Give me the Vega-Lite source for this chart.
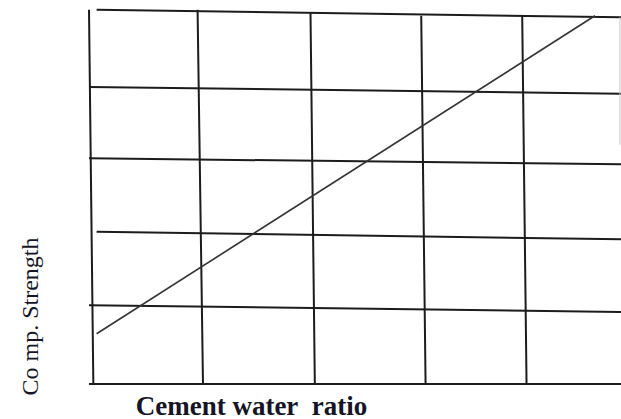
{
  "$schema": "https://vega.github.io/schema/vega-lite/v6.json",
  "width": 532,
  "height": 384,
  "autosize": "none",
  "padding": {"left": 89, "top": 0, "right": 0, "bottom": 35},
  "background": "white",
  "config": {"view": {"stroke": null}},
  "datasets": {
    "grid": [
      {"x": 0.07, "y": 4.99, "x2": 4.9, "y2": 4.89},
      {"x": 0.0, "y": 3.96, "x2": 4.9, "y2": 3.87},
      {"x": 0.0, "y": 3.01, "x2": 4.9, "y2": 2.93},
      {"x": 0.07, "y": 2.03, "x2": 4.9, "y2": 1.93},
      {"x": 0.0, "y": 1.05, "x2": 4.9, "y2": 0.96},
      {"x": 0.0, "y": 0.0, "x2": 4.9, "y2": 0.0},
      {"x": 0.0, "y": 4.99, "x2": 0.04, "y2": 0.0},
      {"x": 1.0, "y": 4.99, "x2": 1.05, "y2": 0.0},
      {"x": 2.04, "y": 4.96, "x2": 2.08, "y2": 0.0},
      {"x": 3.06, "y": 4.91, "x2": 3.1, "y2": 0.0},
      {"x": 3.99, "y": 4.91, "x2": 4.03, "y2": 0.0}
    ],
    "faint": [
      {"x": 4.89, "y": 4.89, "x2": 4.89, "y2": 3.19}
    ],
    "trend": [
      {"x": 0.07, "y": 0.67, "x2": 4.66, "y2": 4.91}
    ]
  },
  "layer": [
    {
      "data": {"name": "grid"},
      "mark": {"type": "rule", "color": "#1c1c1c", "strokeWidth": 2},
      "encoding": {
        "x": {
          "field": "x", "type": "quantitative",
          "scale": {"domain": [0, 4.9], "nice": false, "zero": false},
          "axis": {
            "title": "Cement water\u00a0 ratio",
            "domain": false, "ticks": false, "labels": false, "grid": false,
            "titleFont": "Liberation Serif", "titleFontSize": 27, "titleFontWeight": "bold",
            "titleColor": "#151525",
            "titleX": 162, "titleY": 30, "titleAlign": "center", "titleBaseline": "alphabetic", "titleAnchor": null
          }
        },
        "y": {
          "field": "y", "type": "quantitative",
          "scale": {"domain": [0, 5.12], "nice": false, "zero": false},
          "axis": {
            "title": "Co mp. Strength",
            "domain": false, "ticks": false, "labels": false, "grid": false,
            "titleFont": "Liberation Serif", "titleFontSize": 24, "titleFontWeight": "normal",
            "titleColor": "#151525",
            "titleAngle": -90,
            "titleX": -52, "titleY": 316, "titleAlign": "center", "titleBaseline": "alphabetic", "titleAnchor": null
          }
        },
        "x2": {"field": "x2"},
        "y2": {"field": "y2"}
      }
    },
    {
      "data": {"name": "faint"},
      "mark": {"type": "rule", "color": "#c8c8c8", "strokeWidth": 1},
      "encoding": {
        "x": {"field": "x", "type": "quantitative"},
        "y": {"field": "y", "type": "quantitative"},
        "x2": {"field": "x2"},
        "y2": {"field": "y2"}
      }
    },
    {
      "data": {"name": "trend"},
      "mark": {"type": "rule", "color": "#333333", "strokeWidth": 1.6},
      "encoding": {
        "x": {"field": "x", "type": "quantitative"},
        "y": {"field": "y", "type": "quantitative"},
        "x2": {"field": "x2"},
        "y2": {"field": "y2"}
      }
    }
  ]
}
